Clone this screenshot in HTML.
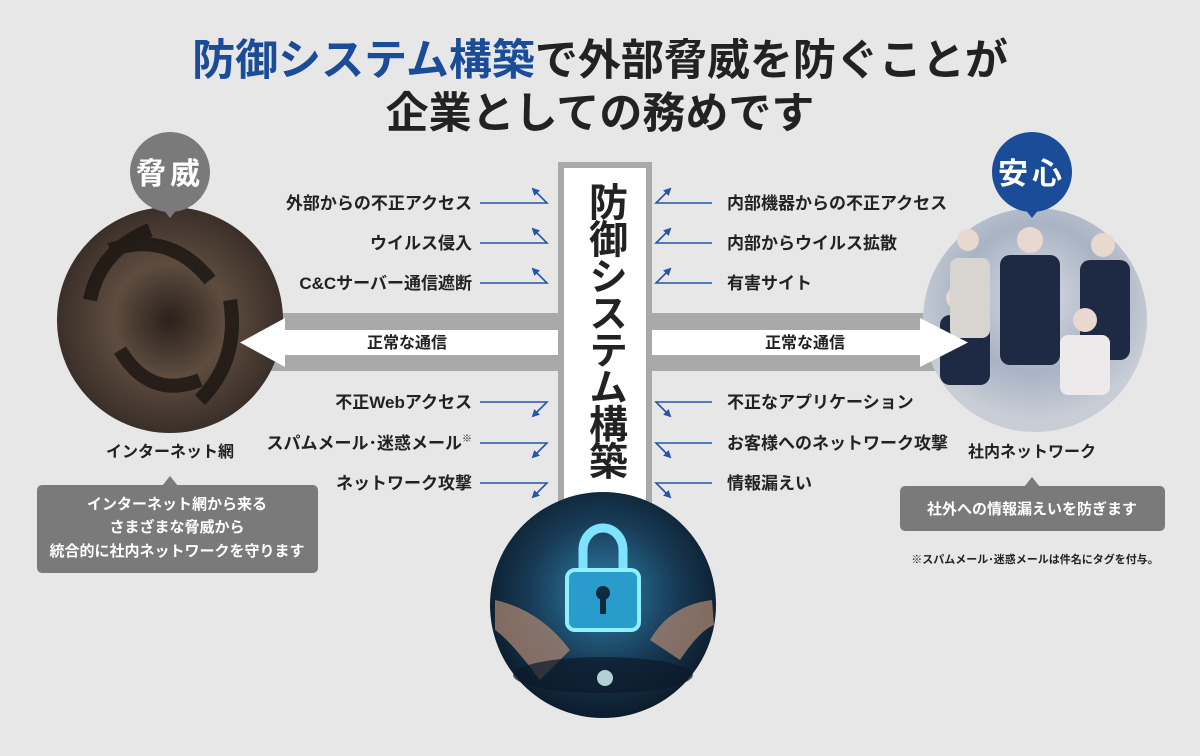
<!DOCTYPE html>
<html><head><meta charset="utf-8"><style>
html,body{margin:0;padding:0;background:#e8e7e8;}
svg{display:block;}
text{font-family:"Liberation Sans","Noto Sans CJK JP",sans-serif;font-weight:bold;}
</style></head><body>
<svg width="1200" height="756" viewBox="0 0 1200 756" xmlns="http://www.w3.org/2000/svg">
<defs>
<marker id="ah" markerWidth="8" markerHeight="8" refX="6" refY="4" orient="auto" markerUnits="userSpaceOnUse"><path d="M0,0 L8,4 L0,8 Z" fill="#2457a6"/></marker>
<radialGradient id="sw" cx="50%" cy="50%" r="50%"><stop offset="0" stop-color="#2a211b"/><stop offset="0.5" stop-color="#5e4c3f"/><stop offset="1" stop-color="#3a2f28"/></radialGradient>
<radialGradient id="of" cx="50%" cy="40%" r="55%"><stop offset="0" stop-color="#d9dde4"/><stop offset="0.6" stop-color="#a9b3c4"/><stop offset="1" stop-color="#c9ced6"/></radialGradient>
<radialGradient id="lk" cx="50%" cy="45%" r="55%"><stop offset="0" stop-color="#2f7fa8"/><stop offset="0.6" stop-color="#173a55"/><stop offset="1" stop-color="#0c1b2a"/></radialGradient>
</defs>
<rect width="1200" height="756" fill="#e8e7e8"/>
<!-- title -->
<text x="600" y="75" font-size="43" text-anchor="middle" fill="#222"><tspan fill="#1a4c97">防御システム構築</tspan>で外部脅威を防ぐことが</text>
<text x="600" y="128" font-size="43" text-anchor="middle" fill="#222">企業としての務めです</text>

<!-- gray band -->
<rect x="255" y="313" width="690" height="58" fill="#a9a9a9"/>
<rect x="280" y="330" width="640" height="25" fill="#fff"/>

<!-- left circle -->
<circle cx="170" cy="320" r="113" fill="url(#sw)"/>
<g stroke="#1a1410" stroke-width="14" fill="none" opacity="0.8">
<path d="M110,250 Q170,230 210,280"/><path d="M200,380 Q150,400 120,350"/><path d="M230,300 Q240,360 200,400"/><path d="M90,300 Q100,250 150,230"/>
</g>
<polygon points="285,318 240,342.5 285,367" fill="#fff"/>
<circle cx="170" cy="172" r="40" fill="#7a7a7a"/>
<polygon points="162,208 178,208 170,218" fill="#7a7a7a"/>
<text x="170" y="184" font-size="30" text-anchor="middle" fill="#fff" letter-spacing="4">脅威</text>
<text x="170" y="457" font-size="16" text-anchor="middle" fill="#222">インターネット網</text>
<polygon points="162,486 178,486 170,476" fill="#7a7a7a"/>
<rect x="37" y="485" width="281" height="88" rx="5" fill="#7a7a7a"/>
<text x="177" y="509" font-size="15" text-anchor="middle" fill="#fff">インターネット網から来る</text>
<text x="177" y="532" font-size="15" text-anchor="middle" fill="#fff">さまざまな脅威から</text>
<text x="177" y="556" font-size="15" text-anchor="middle" fill="#fff">統合的に社内ネットワークを守ります</text>

<!-- right circle -->
<circle cx="1035" cy="320" r="112" fill="url(#of)"/>
<g fill="#1e2a44"><rect x="1000" y="255" width="60" height="110" rx="10"/><rect x="1080" y="260" width="50" height="100" rx="10"/><rect x="940" y="315" width="50" height="70" rx="10"/></g>
<g fill="#e8d8cf"><circle cx="1030" cy="240" r="13"/><circle cx="1103" cy="245" r="12"/><circle cx="968" cy="240" r="11"/><circle cx="957" cy="298" r="11"/><circle cx="1085" cy="320" r="12"/></g>
<rect x="950" y="258" width="40" height="80" rx="8" fill="#d8d4d0"/>
<rect x="1060" y="335" width="50" height="60" rx="8" fill="#eceaea"/>
<polygon points="920,318 968,342.5 920,367" fill="#fff"/>
<circle cx="1032" cy="172" r="40" fill="#1a4c97"/>
<polygon points="1024,208 1040,208 1032,218" fill="#1a4c97"/>
<text x="1032" y="184" font-size="30" text-anchor="middle" fill="#fff" letter-spacing="4">安心</text>
<text x="1032" y="457" font-size="16" text-anchor="middle" fill="#222">社内ネットワーク</text>
<polygon points="1024,487 1040,487 1032,477" fill="#7a7a7a"/>
<rect x="900" y="486" width="265" height="45" rx="5" fill="#7a7a7a"/>
<text x="1032" y="514" font-size="15" text-anchor="middle" fill="#fff">社外への情報漏えいを防ぎます</text>
<text x="1035" y="563" font-size="11" text-anchor="middle" fill="#222">※スパムメール･迷惑メールは件名にタグを付与。</text>

<!-- central column -->
<rect x="558" y="162" width="94" height="360" fill="#a9a9a9"/>
<rect x="564" y="168" width="82" height="360" fill="#fff"/>
<text x="605" y="182" font-size="39" fill="#222" style="writing-mode:vertical-rl;glyph-orientation-vertical:0" text-anchor="start" letter-spacing="-2">防御システム構築</text>

<!-- bottom circle -->
<circle cx="603" cy="605" r="113" fill="url(#lk)"/>
<path d="M583,570 v-20 a20,22 0 0 1 40,0 v20" fill="none" stroke="#7fe3ff" stroke-width="9"/>
<rect x="567" y="570" width="72" height="60" rx="8" fill="#2a9ccc" stroke="#8ff0ff" stroke-width="4"/>
<circle cx="603" cy="593" r="7" fill="#0e2a3f"/><rect x="600" y="596" width="6" height="18" fill="#0e2a3f"/>
<path d="M495,600 Q540,610 570,650 L540,680 Q510,640 495,630 Z" fill="#b38a74" opacity="0.7"/>
<path d="M712,600 Q670,605 650,640 L680,660 Q700,630 714,625 Z" fill="#b38a74" opacity="0.7"/>
<ellipse cx="603" cy="675" rx="90" ry="18" fill="#0b1a2a" opacity="0.7"/>
<circle cx="605" cy="678" r="8" fill="#e0fbff" opacity="0.8"/>

<!-- labels -->
<g font-size="17" fill="#222">
<text x="472" y="209" text-anchor="end">外部からの不正アクセス</text>
<text x="472" y="249" text-anchor="end">ウイルス侵入</text>
<text x="472" y="289" text-anchor="end">C&amp;Cサーバー通信遮断</text>
<text x="472" y="408" text-anchor="end">不正Webアクセス</text>
<text x="472" y="449" text-anchor="end">スパムメール･迷惑メール<tspan font-size="10" dy="-7">※</tspan></text>
<text x="472" y="489" text-anchor="end">ネットワーク攻撃</text>
<text x="727" y="209">内部機器からの不正アクセス</text>
<text x="727" y="249">内部からウイルス拡散</text>
<text x="727" y="289">有害サイト</text>
<text x="727" y="408">不正なアプリケーション</text>
<text x="727" y="449">お客様へのネットワーク攻撃</text>
<text x="727" y="489">情報漏えい</text>
</g>
<g font-size="16" fill="#222">
<text x="407" y="348" text-anchor="middle">正常な通信</text>
<text x="805" y="348" text-anchor="middle">正常な通信</text>
</g>

<!-- connectors -->
<g stroke="#2457a6" stroke-width="1.6" fill="none">
<path d="M480,203 H547 L533,189" marker-end="url(#ah)"/>
<path d="M480,243 H547 L533,229" marker-end="url(#ah)"/>
<path d="M480,283 H547 L533,269" marker-end="url(#ah)"/>
<path d="M480,402 H547 L533,416" marker-end="url(#ah)"/>
<path d="M480,443 H547 L533,457" marker-end="url(#ah)"/>
<path d="M480,483 H547 L533,497" marker-end="url(#ah)"/>
<path d="M712,203 H656 L670,189" marker-end="url(#ah)"/>
<path d="M712,243 H656 L670,229" marker-end="url(#ah)"/>
<path d="M712,283 H656 L670,269" marker-end="url(#ah)"/>
<path d="M712,402 H656 L670,416" marker-end="url(#ah)"/>
<path d="M712,443 H656 L670,457" marker-end="url(#ah)"/>
<path d="M712,483 H656 L670,497" marker-end="url(#ah)"/>
</g>
</svg>
</body></html>
